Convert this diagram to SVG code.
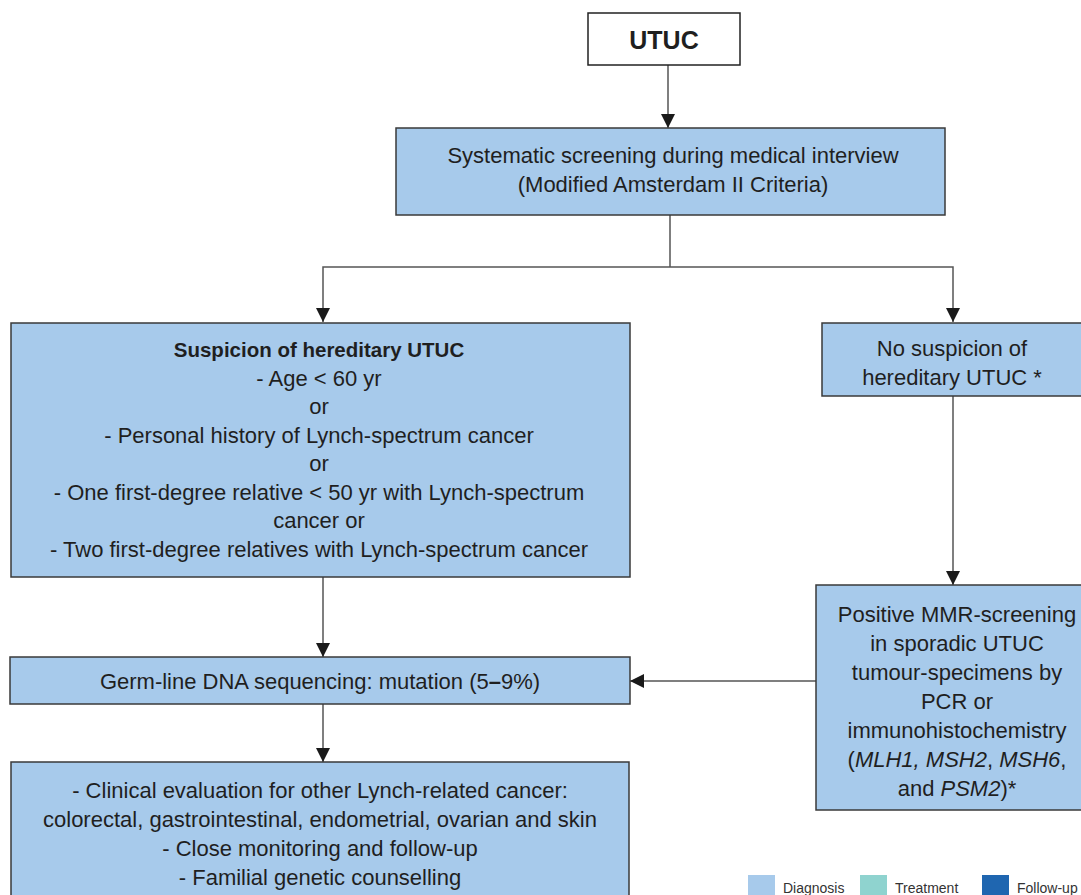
<svg xmlns="http://www.w3.org/2000/svg" width="1081" height="895" viewBox="0 0 1081 895">
<style>
.box{fill:#a7caeb;stroke:#3a3a3a;stroke-width:1.5}
.white{fill:#ffffff;stroke:#222;stroke-width:1.5}
.t{font-family:"Liberation Sans",Arial,sans-serif;font-size:22px;fill:#1f1f1f;text-anchor:middle}
.b{font-weight:bold}
.i{font-style:italic}
.ln{fill:none;stroke:#555;stroke-width:1.5}
.lg{font-family:"Liberation Sans",Arial,sans-serif;font-size:14px;fill:#333}
</style>
<defs>
<marker id="ah" viewBox="0 0 14 14" refX="14" refY="7" markerWidth="14" markerHeight="14" markerUnits="userSpaceOnUse" orient="auto">
<path d="M0,0 L14,7 L0,14 Z" fill="#1a1a1a"/>
</marker>
</defs>
<rect width="1081" height="895" fill="#ffffff"/>
<g id="connectors">
<line class="ln" x1="668" y1="65" x2="668" y2="128" marker-end="url(#ah)"/>
<polyline class="ln" points="670,215 670,267"/>
<polyline class="ln" points="670,267 323,267 323,322" marker-end="url(#ah)"/>
<polyline class="ln" points="670,267 953,267 953,322" marker-end="url(#ah)"/>
<line class="ln" x1="953" y1="396" x2="953" y2="585" marker-end="url(#ah)"/>
<line class="ln" x1="323" y1="577" x2="323" y2="657" marker-end="url(#ah)"/>
<line class="ln" x1="816" y1="681" x2="630" y2="681" marker-end="url(#ah)"/>
<line class="ln" x1="323" y1="704" x2="323" y2="762" marker-end="url(#ah)"/>
</g>
<g id="utuc">
<rect class="white" x="588" y="13" width="152" height="52"/>
<text class="t b" x="664" y="49" style="font-size:25px">UTUC</text>
</g>
<g id="screening">
<rect class="box" x="396" y="128" width="549" height="87"/>
<text class="t" x="673" y="163">Systematic screening during medical interview</text>
<text class="t" x="673" y="192">(Modified Amsterdam II Criteria)</text>
</g>
<g id="suspicion">
<rect class="box" x="11" y="323" width="619" height="254"/>
<text class="t b" x="319" y="357" style="font-size:20.5px">Suspicion of hereditary UTUC</text>
<text class="t" x="319" y="386">- Age &lt; 60 yr</text>
<text class="t" x="319" y="414">or</text>
<text class="t" x="319" y="443">- Personal history of Lynch-spectrum cancer</text>
<text class="t" x="319" y="471">or</text>
<text class="t" x="319" y="500">- One first-degree relative &lt; 50 yr with Lynch-spectrum</text>
<text class="t" x="319" y="528">cancer or</text>
<text class="t" x="319" y="557">- Two first-degree relatives with Lynch-spectrum cancer</text>
</g>
<g id="no-suspicion">
<rect class="box" x="822" y="323" width="270" height="73"/>
<text class="t" x="952" y="356">No suspicion of</text>
<text class="t" x="952" y="385">hereditary UTUC *</text>
</g>
<g id="mmr">
<rect class="box" x="816" y="585" width="276" height="225"/>
<text class="t" x="957" y="622">Positive MMR-screening</text>
<text class="t" x="957" y="651">in sporadic UTUC</text>
<text class="t" x="957" y="680">tumour-specimens by</text>
<text class="t" x="957" y="709">PCR or</text>
<text class="t" x="957" y="738">immunohistochemistry</text>
<text class="t" x="957" y="767">(<tspan class="i">MLH1, MSH2</tspan>, <tspan class="i">MSH6</tspan>,</text>
<text class="t" x="957" y="796">and <tspan class="i">PSM2</tspan>)*</text>
</g>
<g id="germline">
<rect class="box" x="10" y="657" width="620" height="47"/>
<text class="t" x="320" y="689">Germ-line DNA sequencing: mutation (5<tspan class="b">–</tspan>9%)</text>
</g>
<g id="clinical">
<rect class="box" x="11" y="762" width="618" height="145"/>
<text class="t" x="320" y="798">- Clinical evaluation for other Lynch-related cancer:</text>
<text class="t" x="320" y="827">colorectal, gastrointestinal, endometrial, ovarian and skin</text>
<text class="t" x="320" y="856">- Close monitoring and follow-up</text>
<text class="t" x="320" y="885">- Familial genetic counselling</text>
</g>
<g id="legend">
<rect x="748" y="875" width="27" height="25" fill="#a7caeb"/>
<text class="lg" x="783" y="893">Diagnosis</text>
<rect x="860" y="875" width="27" height="25" fill="#8fd3cf"/>
<text class="lg" x="895" y="893">Treatment</text>
<rect x="982" y="875" width="27" height="25" fill="#1f66b0"/>
<text class="lg" x="1017" y="893">Follow-up</text>
</g>
</svg>
